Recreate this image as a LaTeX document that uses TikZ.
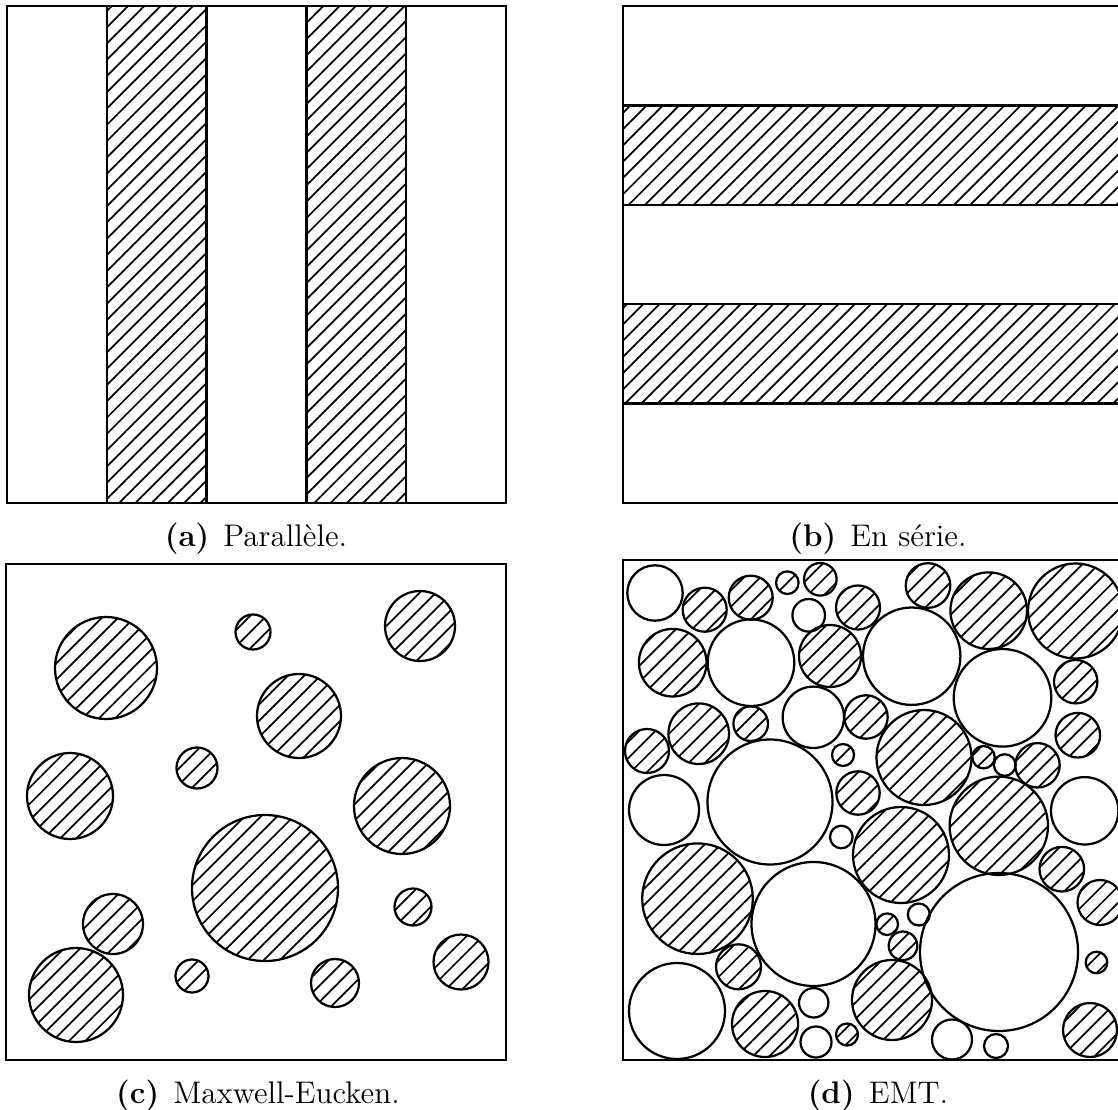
\documentclass[tikz,border=0pt]{standalone}
\usepackage{tikz}
\usetikzlibrary{patterns.meta}
\tikzset{
  frame/.style={line width=0.9pt},
  hatch/.style={line width=0.9pt, pattern={Lines[angle=45,distance=4.6pt,line width=0.7pt]}},
  open/.style={line width=0.9pt},
  subcap/.style={font=\fontsize{12.5}{15}\selectfont, anchor=base}
}

\begin{document}
\begin{tikzpicture}[x=0.4pt, y=-0.4pt]
  \useasboundingbox (0,0) rectangle (1118,1110);

  % (a) parallel layers
  \draw[hatch] (106.8,6) rectangle (206.6,503);
  \draw[hatch] (306.4,6) rectangle (406.2,503);
  \draw[frame] (7,6) rectangle (506,503);
  \node[subcap] (capA) at (256,547) {\textbf{(a)}\hspace{0.45em}Parallèle.};

  % (b) series layers
  \draw[hatch] (623,105.4) rectangle (1122,204.8);
  \draw[hatch] (623,304.2) rectangle (1122,403.6);
  \draw[frame] (623,6) rectangle (1122,503);
  \node[subcap] (capB) at (878,547) {\textbf{(b)}\hspace{0.45em}En série.};

  % (c) Maxwell-Eucken inclusions
  \draw[frame] (6,564) rectangle (506,1060);
  \draw[hatch] (106,668) circle[radius=51];
  \draw[hatch] (253,632) circle[radius=17.5];
  \draw[hatch] (420,626) circle[radius=35];
  \draw[hatch] (299,716) circle[radius=42];
  \draw[hatch] (197,768) circle[radius=20.5];
  \draw[hatch] (402,806) circle[radius=48];
  \draw[hatch] (70,796) circle[radius=43];
  \draw[hatch] (265,888) circle[radius=73];
  \draw[hatch] (113,924) circle[radius=30];
  \draw[hatch] (413,907) circle[radius=18.5];
  \draw[hatch] (76,995) circle[radius=47];
  \draw[hatch] (461,962) circle[radius=27.5];
  \draw[hatch] (192,976) circle[radius=16.5];
  \draw[hatch] (335,983) circle[radius=24];
  \node[subcap] (capC) at (258,1103) {\textbf{(c)}\hspace{0.45em}Maxwell-Eucken.};

  % (d) EMT, two phases packed together
  \draw[frame] (623,560) rectangle (1122,1060);
  % open phase
  \draw[open] (655,593) circle[radius=27.7];
  \draw[open] (808.7,615.3) circle[radius=16.3];
  \draw[open] (751,662.7) circle[radius=43.3];
  \draw[open] (813.3,717.3) circle[radius=30.7];
  \draw[open] (911.7,656.2) circle[radius=48.7];
  \draw[open] (1002.5,697.8) circle[radius=48.8];
  \draw[open] (770,802) circle[radius=62.5];
  \draw[open] (664,810) circle[radius=35];
  \draw[open] (841.3,837) circle[radius=11.3];
  \draw[open] (813.5,924) circle[radius=62];
  \draw[open] (1084.7,810.8) circle[radius=33.7];
  \draw[open] (1004.7,765) circle[radius=10.8];
  \draw[open] (918.8,914.5) circle[radius=11];
  \draw[open] (999,952) circle[radius=79];
  \draw[open] (677,1011) circle[radius=48];
  \draw[open] (813.7,1002.8) circle[radius=14.7];
  \draw[open] (816,1042) circle[radius=15.5];
  \draw[open] (952,1039.5) circle[radius=20];
  \draw[open] (996,1046) circle[radius=12];
  % hatched phase
  \draw[hatch] (704.7,609.7) circle[radius=22];
  \draw[hatch] (750.7,597.7) circle[radius=22];
  \draw[hatch] (787.3,582.7) circle[radius=11.3];
  \draw[hatch] (820.3,579.3) circle[radius=16.3];
  \draw[hatch] (858,607.5) circle[radius=22];
  \draw[hatch] (928,585.5) circle[radius=22.3];
  \draw[hatch] (988.7,610.7) circle[radius=38.3];
  \draw[hatch] (1075.5,611) circle[radius=47.5];
  \draw[hatch] (672.7,662.7) circle[radius=33.8];
  \draw[hatch] (830,656) circle[radius=31];
  \draw[hatch] (1075.7,681.7) circle[radius=21.7];
  \draw[hatch] (750.7,723.7) circle[radius=17.3];
  \draw[hatch] (698.7,733.7) circle[radius=30.3];
  \draw[hatch] (647,751) circle[radius=22];
  \draw[hatch] (843,755) circle[radius=11];
  \draw[hatch] (866,717) circle[radius=21.7];
  \draw[hatch] (924,757.5) circle[radius=47.5];
  \draw[hatch] (983.5,757.2) circle[radius=11.2];
  \draw[hatch] (1037.5,765.3) circle[radius=22.2];
  \draw[hatch] (1077.8,735.2) circle[radius=22.3];
  \draw[hatch] (858,793) circle[radius=21.7];
  \draw[hatch] (998.8,825.8) circle[radius=49.2];
  \draw[hatch] (901,855) circle[radius=48];
  \draw[hatch] (1061.8,869.2) circle[radius=22.3];
  \draw[hatch] (1100,902.5) circle[radius=22.5];
  \draw[hatch] (697.5,898.7) circle[radius=55.3];
  \draw[hatch] (887.2,924.2) circle[radius=10.8];
  \draw[hatch] (903,945.8) circle[radius=14.3];
  \draw[hatch] (1096.5,962.5) circle[radius=10.8];
  \draw[hatch] (738.5,966.8) circle[radius=22.5];
  \draw[hatch] (765,1024) circle[radius=33];
  \draw[hatch] (847,1034.5) circle[radius=11];
  \draw[hatch] (892,1000) circle[radius=40];
  \draw[hatch] (1090,1030) circle[radius=27];
  \node[subcap] (capD) at (878,1103) {\textbf{(d)}\hspace{0.45em}EMT.};
\end{tikzpicture}
\end{document}
